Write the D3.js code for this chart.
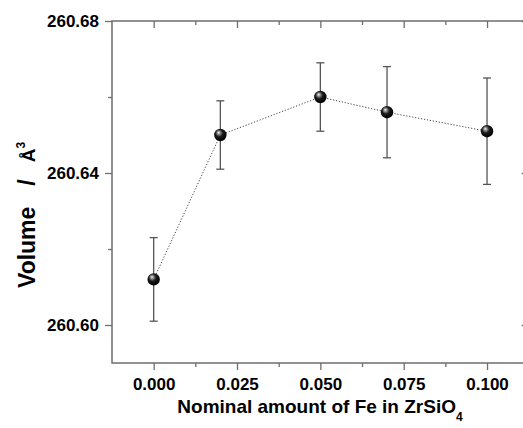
<!DOCTYPE html>
<html>
<head>
<meta charset="utf-8">
<script src="https://cdn.jsdelivr.net/npm/d3@7"></script>
<style>
body{margin:0;background:#fff}
text{font-family:"Liberation Sans",Arial,sans-serif;font-weight:bold;fill:#000}
</style>
</head>
<body>
<svg id="chart" width="523" height="428"></svg>
<script>
// data
var feAmount = [0.000, 0.020, 0.050, 0.070, 0.100];
var volume = [260.612, 260.650, 260.660, 260.656, 260.651];
var volumeErr = [0.011, 0.009, 0.009, 0.012, 0.014];

var xTicks = [0.000, 0.025, 0.050, 0.075, 0.100];
var xMinor = [0.0125, 0.0375, 0.0625, 0.0875];
var yTicks = [260.60, 260.64, 260.68];
var yMinor = [260.62, 260.66];

var svg = d3.select("#chart");
var pLeft = 112, pRight = 528.7, pTop = 21, pBottom = 363;

var x = d3.scaleLinear().domain([-0.0125, 0.1125]).range([pLeft, pRight]);
var y = d3.scaleLinear().domain([260.59, 260.68]).range([pBottom, pTop]);

var axisCol = "#6e6e6e";

// gradient for the shiny balls
var grad = svg.append("defs").append("radialGradient")
    .attr("id","ball").attr("cx","45%").attr("cy","40%").attr("r","60%")
    .attr("fx","35%").attr("fy","30%");
grad.append("stop").attr("offset","0%").attr("stop-color","#f4f4f4");
grad.append("stop").attr("offset","22%").attr("stop-color","#8a8a8a");
grad.append("stop").attr("offset","50%").attr("stop-color","#1a1a1a");
grad.append("stop").attr("offset","100%").attr("stop-color","#000");

function styleAxis(g){
    g.select(".domain").remove();
    g.selectAll(".tick line").attr("stroke",axisCol).attr("stroke-width",1.3);
    g.selectAll(".tick text").style("font-size","17px").attr("fill","#000");
}

// bottom
svg.append("g").attr("transform","translate(0,"+pBottom+")")
    .call(d3.axisBottom(x).tickValues(xTicks).tickSize(7).tickPadding(8).tickFormat(d3.format(".3f")))
    .call(styleAxis);
svg.append("g").attr("transform","translate(0,"+pBottom+")")
    .call(d3.axisBottom(x).tickValues(xMinor).tickSize(4).tickFormat(""))
    .call(styleAxis);
// top (inward)
svg.append("g").attr("transform","translate(0,"+pTop+")")
    .call(d3.axisTop(x).tickValues(xTicks).tickSize(-7).tickFormat(""))
    .call(styleAxis);
svg.append("g").attr("transform","translate(0,"+pTop+")")
    .call(d3.axisTop(x).tickValues(xMinor).tickSize(-4).tickFormat(""))
    .call(styleAxis);
// left
svg.append("g").attr("transform","translate("+pLeft+",0)")
    .call(d3.axisLeft(y).tickValues(yTicks).tickSize(7).tickPadding(6).tickFormat(d3.format(".2f")))
    .call(styleAxis);
svg.append("g").attr("transform","translate("+pLeft+",0)")
    .call(d3.axisLeft(y).tickValues(yMinor).tickSize(4).tickFormat(""))
    .call(styleAxis);
// right (inward)
svg.append("g").attr("transform","translate("+pRight+",0)")
    .call(d3.axisRight(y).tickValues(yTicks).tickSize(-7).tickFormat(""))
    .call(styleAxis);
svg.append("g").attr("transform","translate("+pRight+",0)")
    .call(d3.axisRight(y).tickValues(yMinor).tickSize(-4).tickFormat(""))
    .call(styleAxis);

// frame
svg.append("rect").attr("x",pLeft).attr("y",pTop)
    .attr("width",pRight-pLeft).attr("height",pBottom-pTop)
    .attr("fill","none").attr("stroke",axisCol).attr("stroke-width",1.5);

var pts = feAmount.map(function(d,i){ return {x:d, v:volume[i], e:volumeErr[i]}; });

// dotted connecting line
svg.append("path").datum(pts)
    .attr("d", d3.line().x(function(d){return x(d.x);}).y(function(d){return y(d.v);}))
    .attr("fill","none").attr("stroke","#444").attr("stroke-width",1)
    .attr("stroke-dasharray","1.2,1.8");

// error bars
var eb = svg.append("g").attr("stroke","#555").attr("stroke-width",1.3);
eb.selectAll(".stem").data(pts).enter().append("line")
    .attr("x1",function(d){return x(d.x);}).attr("x2",function(d){return x(d.x);})
    .attr("y1",function(d){return y(d.v+d.e);}).attr("y2",function(d){return y(d.v-d.e);});
eb.selectAll(".capT").data(pts).enter().append("line")
    .attr("x1",function(d){return x(d.x)-4;}).attr("x2",function(d){return x(d.x)+4;})
    .attr("y1",function(d){return y(d.v+d.e);}).attr("y2",function(d){return y(d.v+d.e);});
eb.selectAll(".capB").data(pts).enter().append("line")
    .attr("x1",function(d){return x(d.x)-4;}).attr("x2",function(d){return x(d.x)+4;})
    .attr("y1",function(d){return y(d.v-d.e);}).attr("y2",function(d){return y(d.v-d.e);});

// balls
svg.selectAll(".ball").data(pts).enter().append("circle")
    .attr("cx",function(d){return x(d.x);})
    .attr("cy",function(d){return y(d.v);})
    .attr("r",6.2)
    .attr("fill","url(#ball)");

// x title
var xt = svg.append("text").attr("x",320).attr("y",413)
    .attr("text-anchor","middle").style("font-size","19px");
xt.append("tspan").text("Nominal amount of Fe in ZrSiO");
xt.append("tspan").attr("dy",8).style("font-size","12px").text("4");

// y title
var yt = svg.append("text").attr("transform","translate(35,288) rotate(-90)")
    .attr("text-anchor","start").style("font-size","23px");
yt.append("tspan").text("Volume");
yt.append("tspan").attr("dx",21).text("/");
yt.append("tspan").attr("dx",17).style("font-size","19px").text("Å");
yt.append("tspan").attr("dy",-10).style("font-size","12px").text("3");
</script>
</body>
</html>
